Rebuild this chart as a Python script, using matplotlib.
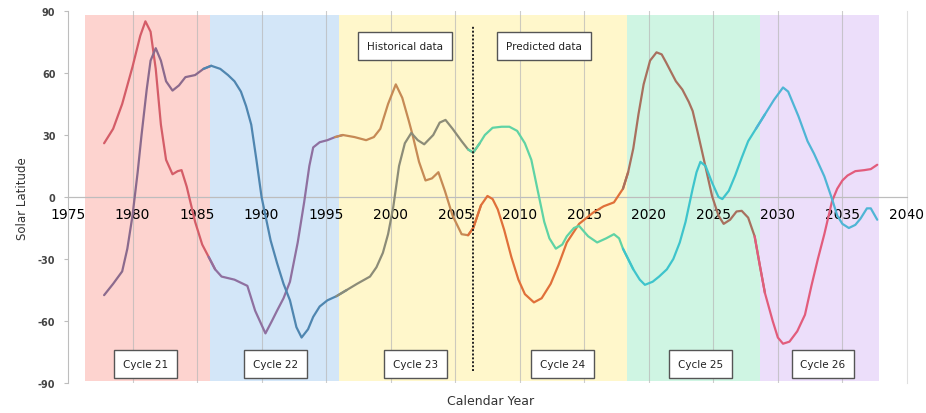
import matplotlib
matplotlib.use("Agg")
import matplotlib.pyplot as plt
import numpy as np

# --- Data ---
years_a = [1977.8, 1978.5, 1979.2, 1980.0, 1980.6, 1981.0, 1981.4, 1981.8, 1982.2, 1982.6,
           1983.1, 1983.5, 1983.8, 1984.2, 1984.85, 1985.4, 1985.9, 1986.4, 1986.9, 1987.9,
           1988.9, 1989.5, 1990.3, 1990.8, 1991.2, 1991.7, 1992.2, 1992.8, 1993.3, 1993.7,
           1994.0, 1994.5, 1995.1, 1995.7, 1996.3, 1997.2, 1998.1, 1998.7, 1999.2, 1999.8,
           2000.4, 2000.9, 2001.4, 2001.7, 2002.2, 2002.7, 2003.2, 2003.7, 2004.2, 2004.8,
           2005.5, 2006.0, 2006.4, 2007.0, 2007.5, 2007.9, 2008.3, 2008.8, 2009.35, 2009.9,
           2010.4, 2011.1, 2011.7, 2012.4, 2013.0, 2013.65, 2014.6, 2015.7, 2016.5, 2017.3,
           2018.0, 2018.4, 2018.8, 2019.2, 2019.6, 2020.1, 2020.6, 2021.0, 2021.35, 2022.1,
           2022.6, 2023.1, 2023.4, 2023.8, 2024.2, 2024.9, 2025.4, 2025.8, 2026.3, 2026.8,
           2027.2, 2027.7, 2028.2, 2028.6, 2029.0, 2029.6, 2030.0, 2030.4, 2030.9, 2031.5,
           2032.1, 2032.6, 2033.1, 2033.6, 2034.2, 2034.6, 2035.0, 2035.4, 2036.0, 2036.7,
           2037.2, 2037.7]
lat_a = [26, 33, 45, 63, 78, 85, 80, 62, 35, 18,
         11, 12.5, 13, 5, -12, -23, -29, -35, -38.5, -40,
         -43, -55, -66, -60, -55, -49, -41, -22, -2.5, 15,
         24, 26.5, 27.5, 29, 30, 29, 27.5, 29, 33, 45,
         54.5, 48, 37, 30, 17, 8, 9, 12, 3, -9,
         -18, -18.5, -15, -4, 0.5, -1, -6, -16, -29, -40,
         -47, -51, -49, -42, -33, -22, -13, -7.5, -4.5, -2.6,
         4, 12, 23.5, 40, 54.5, 66, 70, 69, 65, 56,
         52, 46, 41.6, 31, 20, 0.5, -9, -13, -11, -7,
         -6.7, -10, -19, -33, -46.5, -60, -68, -71, -70, -65,
         -57, -43, -30, -18, -2, 4, 8, 10.4, 12.5, 13,
         13.5, 15.6]

years_b = [1977.8, 1978.5, 1979.2, 1979.6, 1980.0, 1980.4, 1980.7, 1981.1, 1981.4, 1981.8,
           1982.2, 1982.6, 1983.1, 1983.6, 1984.1, 1984.85, 1985.5, 1986.1, 1986.8, 1987.4,
           1987.9, 1988.4, 1988.8, 1989.2, 1989.6, 1990.0, 1990.4, 1990.7, 1991.2, 1991.7,
           1992.2, 1992.7, 1993.1, 1993.6, 1994.0, 1994.5, 1995.1, 1995.8, 1996.6, 1997.4,
           1998.4, 1998.9, 1999.4, 1999.8, 2000.2, 2000.65, 2001.1, 2001.6, 2002.1, 2002.6,
           2003.3, 2003.8, 2004.25, 2004.8, 2005.5, 2006.0, 2006.4, 2006.9, 2007.3, 2007.9,
           2008.6, 2009.2, 2009.8, 2010.4, 2010.9, 2011.4, 2011.9, 2012.3, 2012.8, 2013.3,
           2013.65, 2014.2, 2014.6, 2015.3, 2016.0, 2016.7, 2017.3, 2017.7, 2018.0, 2018.8,
           2019.3, 2019.7, 2020.3, 2020.8, 2021.4, 2021.9, 2022.4, 2022.85, 2023.4, 2023.7,
           2024.0, 2024.4, 2024.9, 2025.4, 2025.7, 2026.2, 2026.7, 2027.2, 2027.7, 2028.3,
           2029.0, 2029.7, 2030.4, 2030.8, 2031.2, 2031.6, 2032.3, 2032.8, 2033.6, 2034.2,
           2034.6, 2035.0, 2035.5, 2036.0, 2036.4, 2036.9, 2037.2, 2037.7]
lat_b = [-47.5, -42, -36, -25, -9, 12, 30, 52, 66, 72,
         66, 56, 51.5, 54, 58, 59, 62, 63.5, 62, 59,
         56, 51, 44, 35, 18, 0, -12, -21, -32, -42,
         -50, -63, -68, -64, -58, -53, -50, -48, -45, -42,
         -38.5, -34, -27, -18, -5, 15, 26, 31, 27.5, 25.5,
         30, 36, 37.3, 33, 27, 23, 21.5, 26, 30, 33.5,
         34, 34, 32, 26, 18, 3, -12, -20, -25, -23,
         -19, -15, -14, -19, -22, -20, -18, -20, -25, -35,
         -40, -42.5, -41, -38.5, -35, -30, -22, -12, 4, 12,
         17, 15, 7, 0, -1, 3, 10.5, 19, 27, 33,
         40, 47, 53, 51, 45, 39, 27, 21, 10, -1,
         -9, -13, -15, -13.5, -10.5, -5.5, -5.5, -11]

# cycles: label, band edges, label positions
cycle_names = ["Cycle 21", "Cycle 22", "Cycle 23", "Cycle 24", "Cycle 25", "Cycle 26"]
cycle_edges = [1976.3, 1986.0, 1996.0, 2006.4, 2018.3, 2028.6, 2037.8]
cycle_label_x = [1981.0, 1991.1, 2001.9, 2013.3, 2024.0, 2033.5]
band_colors = ["#fdd3cf", "#d3e6f8", "#fff7cb", "#fff7cb", "#cff5e3", "#ecdefa"]

colors_a = ["#d45d68", "#8f70a0", "#c68a55", "#e0703a", "#a8705e", "#e25c7c"]
colors_b = ["#8b6a8d", "#4f86b0", "#8c8c78", "#5fd3a5", "#3ec4cc", "#4fb5d5"]

split_year = 2006.4

fig = plt.figure(figsize=(9.26, 4.14), dpi=100)
ax = fig.add_axes([0.0734, 0.0725, 0.906, 0.8985])

ax.set_xlim(1975, 2040)
ax.set_ylim(-90, 90)

# shaded cycle bands
for i in range(len(cycle_names)):
    ax.axvspan(cycle_edges[i], cycle_edges[i + 1], ymin=0.005, ymax=0.99,
               color=band_colors[i], lw=0, zorder=0)

# vertical grid
for yr in range(1980, 2040, 5):
    ax.axvline(yr, color="#b8b8b8", lw=0.8, alpha=0.7, zorder=1)
ax.axhline(0, color="#bdbdbd", lw=0.8, zorder=1)


def draw_segments(years, lats, colors):
    years = np.array(years)
    lats = np.array(lats)
    edges = [-1e9] + cycle_edges[1:-1] + [1e9]
    for i in range(len(colors)):
        idx = np.where((years >= edges[i]) & (years <= edges[i + 1]))[0]
        if len(idx) == 0:
            continue
        lo = max(idx[0] - 1, 0)
        hi = min(idx[-1] + 1, len(years) - 1)
        ax.plot(years[lo:hi + 1], lats[lo:hi + 1], color=colors[i], lw=1.6,
                solid_capstyle="round", solid_joinstyle="round", zorder=3)


draw_segments(years_a, lat_a, colors_a)
draw_segments(years_b, lat_b, colors_b)

# historical / predicted divider
ax.plot([split_year, split_year], [-84, 83], color="#222222", lw=1.4,
        linestyle=(0, (1, 1)), zorder=4)

box = dict(boxstyle="square,pad=0.85", fc="white", ec="#555555", lw=1.0)
ax.text(2001.1, 73, "Historical data", ha="center", va="center", fontsize=7.5,
        color="#222222", bbox=box, zorder=5)
ax.text(2011.9, 73, "Predicted data", ha="center", va="center", fontsize=7.5,
        color="#222222", bbox=box, zorder=5)

for name, xc in zip(cycle_names, cycle_label_x):
    ax.text(xc, -80.7, name, ha="center", va="center", fontsize=7.5,
            color="#222222", bbox=box, zorder=5)

# axes styling
ax.set_yticks(range(-90, 91, 30))
ax.set_yticklabels([str(v) for v in range(-90, 91, 30)], fontsize=7,
                   color="#444444", fontweight="bold")
ax.set_xticks(range(1975, 2041, 5))
ax.set_xticklabels([str(v) for v in range(1975, 2041, 5)], fontsize=6.5,
                   color="#8a8a8a")
ax.spines["bottom"].set_position(("data", 0))
ax.spines["bottom"].set_color("#bdbdbd")
ax.spines["left"].set_color("#bdbdbd")
ax.spines["top"].set_visible(False)
ax.spines["right"].set_color("#e0e0e0")
ax.tick_params(axis="x", length=0, pad=7)
ax.tick_params(axis="y", length=3, color="#bdbdbd", pad=6)

fig.text(0.024, 0.52, "Solar Latitude", rotation=90, ha="center", va="center",
         fontsize=8.5, color="#333333")
fig.text(0.53, 0.03, "Calendar Year", ha="center", va="center",
         fontsize=9, color="#333333")

fig.savefig("out.png", dpi=100)
